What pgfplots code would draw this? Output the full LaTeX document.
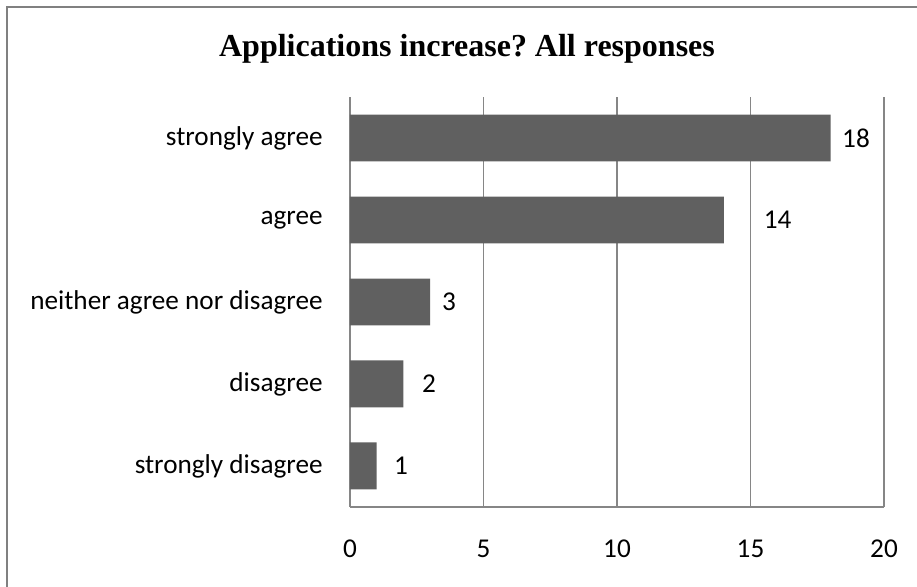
\documentclass[border=0pt]{standalone}
\usepackage{pgfplots}
\pgfplotsset{compat=1.18}
\usepackage{pgfplotstable}
\usepackage{fontspec}
\setmainfont{Carlito}
\newfontfamily\titlefont{Liberation Serif}
\definecolor{barfill}{RGB}{96,96,96}
\definecolor{gridgray}{RGB}{134,134,134}
\definecolor{framegray}{RGB}{128,128,128}

\pgfplotstableread{
y x off
0 1 12.2
1 2 12.8
2 3 9.5
3 14 26.9
4 18 12.7
}\datatable

\begin{document}
\frenchspacing
\begin{tikzpicture}
\useasboundingbox (0pt,0pt) rectangle (458.5pt,293.5pt);
\draw[framegray, line width=1pt] (3.5pt,-2pt) -- (3.5pt,290pt) -- (461pt,290pt);
\node[anchor=base, font=\titlefont\bfseries\fontsize{16}{19}\selectfont] at (233.5pt,265pt) {Applications increase? All responses};
\begin{axis}[
  at={(175pt,40pt)}, anchor=south west,
  width=267pt, height=205pt, scale only axis,
  xmin=0, xmax=20, ymin=-0.5, ymax=4.5,
  xtick={0,5,10,15,20},
  ytick={0,1,2,3,4},
  yticklabels={strongly disagree,disagree,neither agree nor disagree,agree,strongly agree},
  axis lines*=left,
  axis line style={draw=gridgray, line width=0.9pt, -},
  xmajorgrids,
  grid style={draw=gridgray, line width=0.9pt},
  major tick length=0pt,
  /pgf/number format/assume math mode=true,
  tick label style={font=\fontsize{13.6}{16}\selectfont, text=black},
  x tick label style={anchor=center, yshift=-20.75pt, inner sep=0pt},
  y tick label style={anchor=east, inner sep=0pt, xshift=-13.5pt},
  clip=false,
]
\addplot[xbar, fill=barfill, draw=none, bar width=0.573,
  point meta=x,
  visualization depends on={\thisrow{off} \as \off},
  nodes near coords,
  nodes near coords style={anchor=center, xshift=\off pt, font=\fontsize{13.6}{16}\selectfont, text=black},
] table[x=x, y=y] {\datatable};
\end{axis}
\end{tikzpicture}
\end{document}
